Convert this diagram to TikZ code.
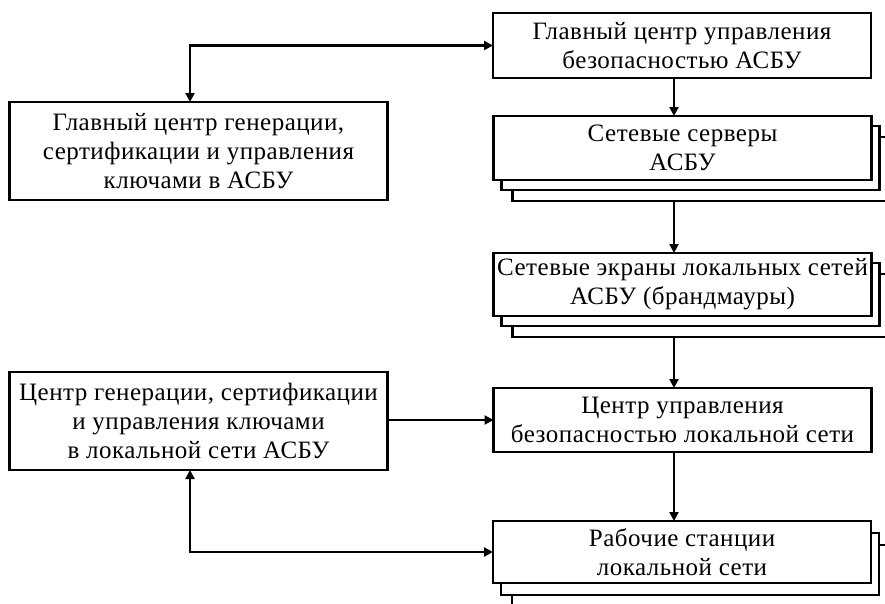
\documentclass[tikz,border=0pt]{standalone}
\usepackage{fontspec}
\setmainfont[LetterSpace=2]{Liberation Serif}
\usetikzlibrary{arrows.meta,calc}
\tikzset{
  blk/.style={draw=black, line width=2.2pt, fill=white, rectangle, inner sep=0pt, outer sep=0pt,
    align=center, font=\fontsize{25}{29}\selectfont, minimum width=378pt},
  shd/.style={draw=black, line width=2.2pt, fill=white, rectangle, inner sep=0pt, outer sep=0pt, minimum width=378pt},
  conn/.style={line width=2.2pt, -{Triangle[length=9pt,width=9pt]}},
  biconn/.style={line width=2.2pt, {Triangle[length=9pt,width=9pt]}-{Triangle[length=9pt,width=9pt]}}
}
\begin{document}
\begin{tikzpicture}[x=1pt,y=-1pt]
\useasboundingbox (0,0) rectangle (885,603);
\clip (0,0) rectangle (885,603);
\fill[white] (0,0) rectangle (885,603);
\coordinate (ax) at (674,0);
\coordinate (lx) at (190,0);
% shadows
\node[shd, minimum height=64pt] (srv2) at (701.5,169) {};
\node[shd, minimum height=64pt] (srv1) at (690.5,158) {};
\node[shd, minimum height=63pt] (fw2) at (701.5,305.5) {};
\node[shd, minimum height=63pt] (fw1) at (690.5,294.5) {};
\node[shd, minimum height=62pt] (ws2) at (701,576) {};
\node[shd, minimum height=62pt] (ws1) at (690,564) {};
% main boxes
\node[blk, minimum height=65pt] (top) at (682,45.5) {Главный центр управления\\безопасностью АСБУ};
\node[blk, minimum height=64pt] (srv) at (682.5,148) {Сетевые серверы\\АСБУ};
\node[blk, minimum height=63pt] (fw) at (682.5,284.5) {Сетевые экраны локальных сетей\\АСБУ (брандмауры)};
\node[blk, minimum height=64pt] (ctr) at (682.5,420) {Центр управления\\безопасностью локальной сети};
\node[blk, minimum height=62pt] (ws) at (682,552) {Рабочие станции\\локальной сети};
\node[blk, minimum height=98pt] (lb1) at (198.5,151) {Главный центр генерации,\\сертификации и управления\\ключами в АСБУ};
\node[blk, minimum height=98pt] (lb2) at (198.5,421) {Центр генерации, сертификации\\и управления ключами\\в локальной сети АСБУ};
% connectors
\draw[biconn] (lb1.north -| lx) |- (top.west);
\draw[conn] (top.south -| ax) -- (srv.north -| ax);
\draw[conn] (srv2.south -| ax) -- (fw.north -| ax);
\draw[conn] (fw2.south -| ax) -- (ctr.north -| ax);
\draw[conn] (ctr.south -| ax) -- (ws.north -| ax);
\draw[conn] (lb2.east |- ctr.west) -- (ctr.west);
\draw[biconn] (lb2.south -| lx) |- (ws.west);
\end{tikzpicture}
\end{document}
